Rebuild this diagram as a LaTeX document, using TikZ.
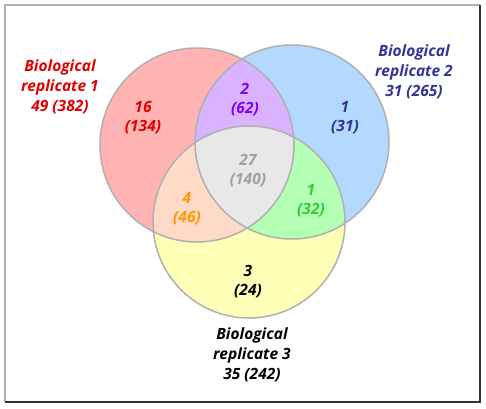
\documentclass[tikz,border=0pt]{standalone}
\usepackage{fontspec}
\setmainfont{Open Sans}
\usetikzlibrary{calc}

\definecolor{redfill}{HTML}{FFB3B3}
\definecolor{bluefill}{HTML}{B3D9FF}
\definecolor{yellowfill}{HTML}{FFFFB8}
\definecolor{purplefill}{HTML}{D9B3FF}
\definecolor{peachfill}{HTML}{FFDAC6}
\definecolor{greenfill}{HTML}{B3FFB3}
\definecolor{grayfill}{HTML}{E8E8E8}
\definecolor{rimgray}{HTML}{B0B0B0}
\definecolor{txtred}{HTML}{E00000}
\definecolor{txtnavy}{HTML}{333399}
\definecolor{txtpurple}{HTML}{7F00FF}
\definecolor{txtgray}{HTML}{A0A0A0}
\definecolor{txtorange}{HTML}{FF9900}
\definecolor{txtgreen}{HTML}{33CC33}

\tikzset{
	setlabel/.style={align=center,font=\fontsize{15.5}{20}\selectfont\bfseries\itshape},
	count/.style={align=center,font=\fontsize{15.5}{19}\selectfont\bfseries\itshape},
	rim/.style={draw=rimgray,line width=1.5pt}
}

\begin{document}
\begin{tikzpicture}[x=1pt,y=-1pt]
	%frame
	\useasboundingbox (0,0) rectangle (486,408);
	\fill[white] (0,0) rectangle (486,408);
	\draw[gray!60,line width=1.2pt] (5,402)--(5,5)--(480,5);		%top & left
	\draw[black!80,line width=1.5pt] (480,5)--(480,402)--(5,402);	%shadow side

	%centres
	\coordinate (c1) at (197,145);	%replicate 1
	\coordinate (c2) at (292,142);	%replicate 2
	\coordinate (c3) at (249,222);	%replicate 3

	%circles
	\fill[redfill] (c1) circle (97);
	\fill[bluefill] (c2) circle (97);
	\fill[yellowfill] (c3) circle (96);

	%overlaps
	\begin{scope}
		\clip (c1) circle (97);
		\fill[purplefill] (c2) circle (97);
		\fill[peachfill] (c3) circle (96);
	\end{scope}
	\begin{scope}
		\clip (c2) circle (97);
		\fill[greenfill] (c3) circle (96);
		\clip (c1) circle (97);
		\fill[grayfill] (c3) circle (96);
	\end{scope}

	%outlines
	\draw[rim] (c1) circle (97);
	\draw[rim] (c2) circle (97);
	\draw[rim] (c3) circle (96);

	%set labels
	\node[setlabel,txtred]  (lab1) at (60,87)   {Biological\\replicate 1\\49 (382)};
	\node[setlabel,txtnavy] (lab2) at (414,72)  {Biological\\replicate 2\\31 (265)};
	\node[setlabel,black]   (lab3) at (252,355) {Biological\\replicate 3\\35 (242)};

	%region counts
	\node[count,txtred]    (n1)   at (143,118) {16\\(134)};
	\node[count,txtpurple] (n12)  at (245,100) {2\\(62)};
	\node[count,txtnavy]   (n2)   at (345,118) {1\\(31)};
	\node[count,txtgray]   (n123) at (248,171) {27\\(140)};
	\node[count,txtorange] (n13)  at (187,209) {4\\(46)};
	\node[count,txtgreen]  (n23)  at (311,201) {1\\(32)};
	\node[count,black]     (n3)   at (248,282) {3\\(24)};
\end{tikzpicture}
\end{document}
